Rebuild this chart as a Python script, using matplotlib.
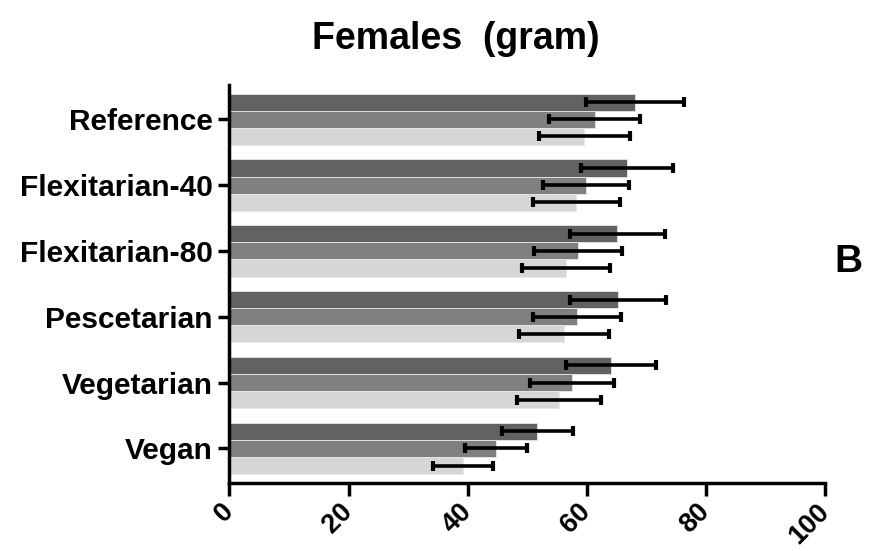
import matplotlib
matplotlib.use("Agg")
import matplotlib.pyplot as plt
import numpy as np

plt.rcParams['font.family'] = ['Liberation Sans', 'DejaVu Sans']

categories = ["Reference", "Flexitarian-40", "Flexitarian-80", "Pescetarian", "Vegetarian", "Vegan"]
series_dark = [68.1, 66.8, 65.1, 65.2, 64.1, 51.7]
series_mid = [61.3, 59.9, 58.5, 58.3, 57.5, 44.8]
series_light = [59.6, 58.2, 56.5, 56.2, 55.3, 39.2]
err_dark = [8.2, 7.7, 8.0, 8.1, 7.6, 6.0]
err_mid = [7.7, 7.2, 7.4, 7.4, 7.0, 5.2]
err_light = [7.7, 7.3, 7.4, 7.5, 7.1, 5.0]
xticks = [0, 20, 40, 60, 80, 100]

colors = ["#626262", "#808080", "#d6d6d6"]

fig = plt.figure(figsize=(8.79, 5.51), dpi=100)
ax = fig.add_axes([0.261, 0.124, 0.6776, 0.7217])

y = np.arange(len(categories))
h = 0.26
offsets = [-h, 0, h]
for vals, errs, col, off in zip([series_dark, series_mid, series_light],
                                [err_dark, err_mid, err_light], colors, offsets):
    ax.barh(y + off, vals, height=h, color=col, edgecolor='#e8e8e8', linewidth=0.6, zorder=2)
    ax.errorbar(vals, y + off, xerr=errs, fmt='none', ecolor='black',
                elinewidth=2.6, capsize=3.8, capthick=3, zorder=3)

ax.set_ylim(5.52, -0.52)
ax.set_xlim(0, 100)
ax.set_yticks(y)
ax.set_yticklabels(categories, fontsize=21.5, fontweight='bold')
ax.set_xticks(xticks)
ax.set_xticklabels([str(t) for t in xticks], fontsize=19.5, fontweight='bold',
                   rotation=45, ha='right', va='center', rotation_mode='anchor')

for s in ['top', 'right']:
    ax.spines[s].set_visible(False)
for s in ['left', 'bottom']:
    ax.spines[s].set_linewidth(2.5)
ax.tick_params(axis='y', length=8, width=2.5, pad=4)
ax.tick_params(axis='x', length=9, width=2.5, pad=9)

fig.text(0.518, 0.93, "Females  (gram)", fontsize=27, fontweight='bold',
         ha='center', va='center')
fig.text(0.965, 0.525, "B", fontsize=28, fontweight='bold', ha='center', va='center')

fig.savefig("out.png", dpi=100)
